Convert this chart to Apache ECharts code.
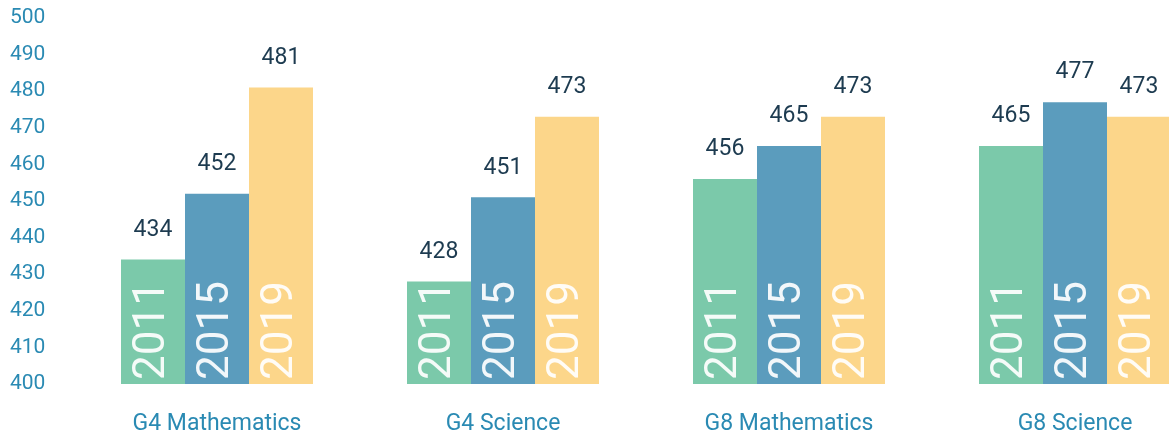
<!DOCTYPE html>
<html>
<head>
<meta charset="utf-8">
<script src="https://cdn.jsdelivr.net/npm/echarts@6/dist/echarts.min.js"></script>
<style>html,body{margin:0;padding:0;background:#fff;}#c{width:1169px;height:438px;}</style>
</head>
<body>
<div id="c"></div>
<script>
const categories = ['G4 Mathematics', 'G4 Science', 'G8 Mathematics', 'G8 Science'];
const years = ['2011', '2015', '2019'];
const values2011 = [434, 428, 456, 465];
const values2015 = [452, 451, 465, 477];
const values2019 = [481, 473, 473, 473];
const yTicks = { min: 400, max: 500, interval: 10 };

const colors = ['#7BC9AA', '#5B9CBD', '#FCD68A'];
const seriesValues = [values2011, values2015, values2019];
const fontFam = 'Roboto, "DejaVu Sans", sans-serif';

const chart = echarts.init(document.getElementById('c'));
const series = [];
seriesValues.forEach((vals, i) => {
  series.push({
    type: 'bar', name: years[i], data: vals, xAxisIndex: 0,
    barWidth: 64, barGap: '0%',
    itemStyle: { color: colors[i] },
    label: {
      show: true, position: 'top', distance: 18,
      color: '#1D3B50', fontSize: 23, fontFamily: fontFam
    },
    emphasis: { disabled: true }
  });
});
seriesValues.forEach((vals, i) => {
  series.push({
    type: 'bar', name: years[i] + 'y', data: vals, xAxisIndex: 1,
    barWidth: 64, barGap: '0%',
    itemStyle: { color: 'rgba(0,0,0,0)' },
    label: {
      show: true, position: 'insideBottom', rotate: 90, distance: 4,
      align: 'left', verticalAlign: 'middle',
      formatter: () => years[i],
      color: 'rgba(255,255,255,0.92)', fontSize: 44, fontWeight: 'normal', fontFamily: fontFam
    },
    emphasis: { disabled: true }
  });
});

chart.setOption({
  animation: false,
  grid: { left: 74, top: 18, bottom: 54, right: -49, outerBoundsMode: 'none', containLabel: false },
  xAxis: [{
    type: 'category', data: categories,
    axisLine: { show: false }, axisTick: { show: false },
    axisLabel: { color: '#2A8AB3', fontSize: 23, margin: 29, fontFamily: fontFam }
  }, {
    type: 'category', data: categories, show: false
  }],
  yAxis: {
    type: 'value', min: yTicks.min, max: yTicks.max, interval: yTicks.interval,
    splitLine: { show: false }, axisLine: { show: false }, axisTick: { show: false },
    axisLabel: { color: '#2A8AB3', fontSize: 21, align: 'left', margin: 64, fontFamily: fontFam }
  },
  series: series
});
</script>
</body>
</html>
